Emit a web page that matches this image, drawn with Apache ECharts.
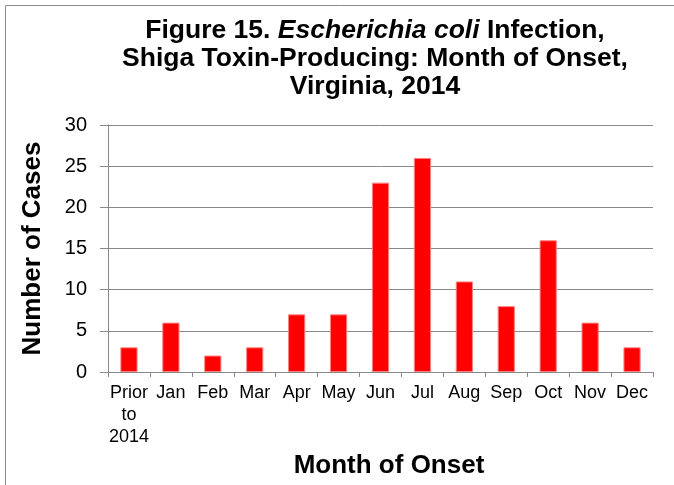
<!DOCTYPE html>
<html>
<head>
<meta charset="utf-8">
<script src="https://cdn.jsdelivr.net/npm/echarts@6/dist/echarts.min.js"></script>
<style>
html,body{margin:0;padding:0;background:#fff;}
#chart{width:674px;height:485px;}
</style>
</head>
<body>
<div id="chart"></div>
<script>
const categories = ['Prior\nto\n2014','Jan','Feb','Mar','Apr','May','Jun','Jul','Aug','Sep','Oct','Nov','Dec'];
const cases = [3, 6, 2, 3, 7, 7, 23, 26, 11, 8, 16, 6, 3];
const yTicks = {min: 0, max: 30, interval: 5};
const titleLines = ['Figure 15. ', 'Escherichia coli', ' Infection,', 'Shiga Toxin-Producing: Month of Onset,', 'Virginia, 2014'];
const xTitle = 'Month of Onset';
const yTitle = 'Number of Cases';

const FONT = '"Liberation Sans", Arial, sans-serif';
const chart = echarts.init(document.getElementById('chart'), null, {renderer: 'canvas'});
chart.setOption({
  animation: false,
  backgroundColor: '#ffffff',
  graphic: [{
    type: 'rect', silent: true,
    shape: {x: 5.5, y: 5.5, width: 720, height: 520},
    style: {fill: 'none', stroke: '#8a8a8a', lineWidth: 1}
  }],
  title: {
    text: '{b|' + titleLines[0] + '}{i|' + titleLines[1] + '}{b|' + titleLines[2] + '}\n{b|' + titleLines[3] + '}\n{b|' + titleLines[4] + '}',
    left: 375, top: 17, textAlign: 'center', padding: 0,
    textStyle: {
      fontFamily: FONT, fontSize: 26.5, fontWeight: 'bold', color: '#000', lineHeight: 28,
      rich: {
        b: {fontFamily: FONT, fontSize: 26.5, fontWeight: 'bold', color: '#000', lineHeight: 28},
        i: {fontFamily: FONT, fontSize: 26.5, fontWeight: 'bold', fontStyle: 'italic', color: '#000', lineHeight: 28}
      }
    }
  },
  grid: {left: 108, right: 21, top: 125, bottom: 113, containLabel: false},
  xAxis: {
    type: 'category', data: categories,
    name: xTitle, nameLocation: 'middle', nameGap: 60,
    nameTextStyle: {fontFamily: FONT, fontSize: 26, fontWeight: 'bold', color: '#000', padding: [0, 0, 0, 17]},
    axisLine: {lineStyle: {color: '#888', width: 1}},
    axisTick: {show: true, length: 5, lineStyle: {color: '#888'}},
    axisLabel: {fontFamily: FONT, fontSize: 18, color: '#000', lineHeight: 22, margin: 10, interval: 0}
  },
  yAxis: {
    type: 'value', min: yTicks.min, max: yTicks.max, interval: yTicks.interval,
    name: yTitle, nameLocation: 'middle', nameGap: 62, nameRotate: 90,
    nameTextStyle: {fontFamily: FONT, fontSize: 26, fontWeight: 'bold', color: '#000'},
    axisLine: {show: true, lineStyle: {color: '#888', width: 1}},
    axisTick: {show: true, length: 8, lineStyle: {color: '#888'}},
    axisLabel: {fontFamily: FONT, fontSize: 20, color: '#000', margin: 21},
    splitLine: {show: true, lineStyle: {color: '#888', width: 1}}
  },
  series: [{
    type: 'bar', data: cases, barWidth: '41%',
    itemStyle: {color: '#ff0000', borderColor: '#ff8080', borderWidth: 1}
  }]
});
</script>
</body>
</html>
